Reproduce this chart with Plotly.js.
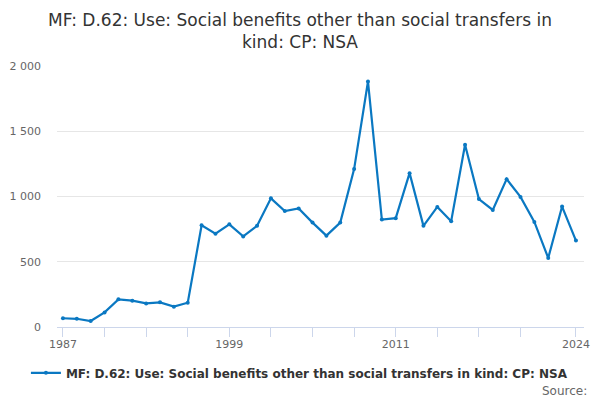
<!DOCTYPE html>
<html>
<head>
<meta charset="utf-8">
<script src="https://cdn.plot.ly/plotly-3.0.1.min.js"></script>
<style>
  html, body { margin: 0; padding: 0; background: #fff; }
  #plot { width: 600px; height: 400px; }
</style>
</head>
<body>
<div id="plot"></div>
<script>
const seriesName = 'MF: D.62: Use: Social benefits other than social transfers in kind: CP: NSA';

const years = [
  1987, 1988, 1989, 1990, 1991, 1992, 1993, 1994, 1995, 1996,
  1997, 1998, 1999, 2000, 2001, 2002, 2003, 2004, 2005, 2006,
  2007, 2008, 2009, 2010, 2011, 2012, 2013, 2014, 2015, 2016,
  2017, 2018, 2019, 2020, 2021, 2022, 2023, 2024,
];

const values = [
  67, 63, 46, 112, 212, 202, 181, 189, 156, 186,
  779, 715, 787, 694, 776, 986, 889, 909, 800, 700,
  800, 1210, 1881, 823, 834, 1179, 775, 920, 811, 1396,
  980, 897, 1133, 997, 805, 529, 923, 662,
];

const tickYears = [1987, 1990, 1993, 1996, 1999, 2002, 2005, 2008, 2011, 2014, 2017, 2020, 2024];
const tickLabels = ['1987', '', '', '', '1999', '', '', '', '2011', '', '', '', '2024'];

const trace = {
  x: years,
  y: values,
  name: seriesName,
  type: 'scatter',
  mode: 'lines+markers',
  line: { color: '#0a78c2', width: 2.2 },
  marker: { color: '#0a78c2', size: 4 },
  hoverinfo: 'x+y',
};

const layout = {
  width: 600,
  height: 400,
  font: { family: 'DejaVu Sans, sans-serif', color: '#666666' },
  separators: '. ',
  paper_bgcolor: '#ffffff',
  plot_bgcolor: '#ffffff',
  margin: { l: 57, r: 16, t: 66, b: 73, autoexpand: false },
  title: {
    text: 'MF: D.62: Use: Social benefits other than social transfers in<br>kind: CP: NSA',
    font: { size: 17, color: '#333333' },
    x: 0.5,
    xanchor: 'center',
    y: 0.935,
    yanchor: 'top',
  },
  xaxis: {
    range: [1986.57, 2024.58],
    tickvals: tickYears,
    ticktext: tickLabels,
    ticks: 'outside',
    ticklen: 9,
    tickcolor: '#ccd6eb',
    showline: true,
    linecolor: '#ccd6eb',
    linewidth: 1,
    showgrid: false,
    zeroline: false,
    ticklabelstandoff: -2,
    tickfont: { size: 11, color: '#666666' },
    fixedrange: true,
  },
  yaxis: {
    range: [0, 2000],
    tickvals: [0, 500, 1000, 1500, 2000],
    separatethousands: true,
    tickformat: ',d',
    showgrid: true,
    gridcolor: '#e6e6e6',
    zeroline: false,
    showline: false,
    ticks: '',
    ticklabelstandoff: 15,
    tickfont: { size: 11, color: '#666666' },
    fixedrange: true,
  },
  showlegend: true,
  legend: {
    orientation: 'h',
    x: 0.46,
    xanchor: 'center',
    y: -0.12,
    yanchor: 'top',
    font: { size: 12, color: '#333333', weight: 'bold' },
  },
  annotations: [
    {
      text: 'Source:',
      xref: 'paper',
      yref: 'paper',
      x: 1.01,
      xanchor: 'right',
      y: -0.21,
      yanchor: 'top',
      showarrow: false,
      font: { size: 12, color: '#666666' },
    },
  ],
};

Plotly.newPlot('plot', [trace], layout, { displayModeBar: false, staticPlot: true });
</script>
</body>
</html>
